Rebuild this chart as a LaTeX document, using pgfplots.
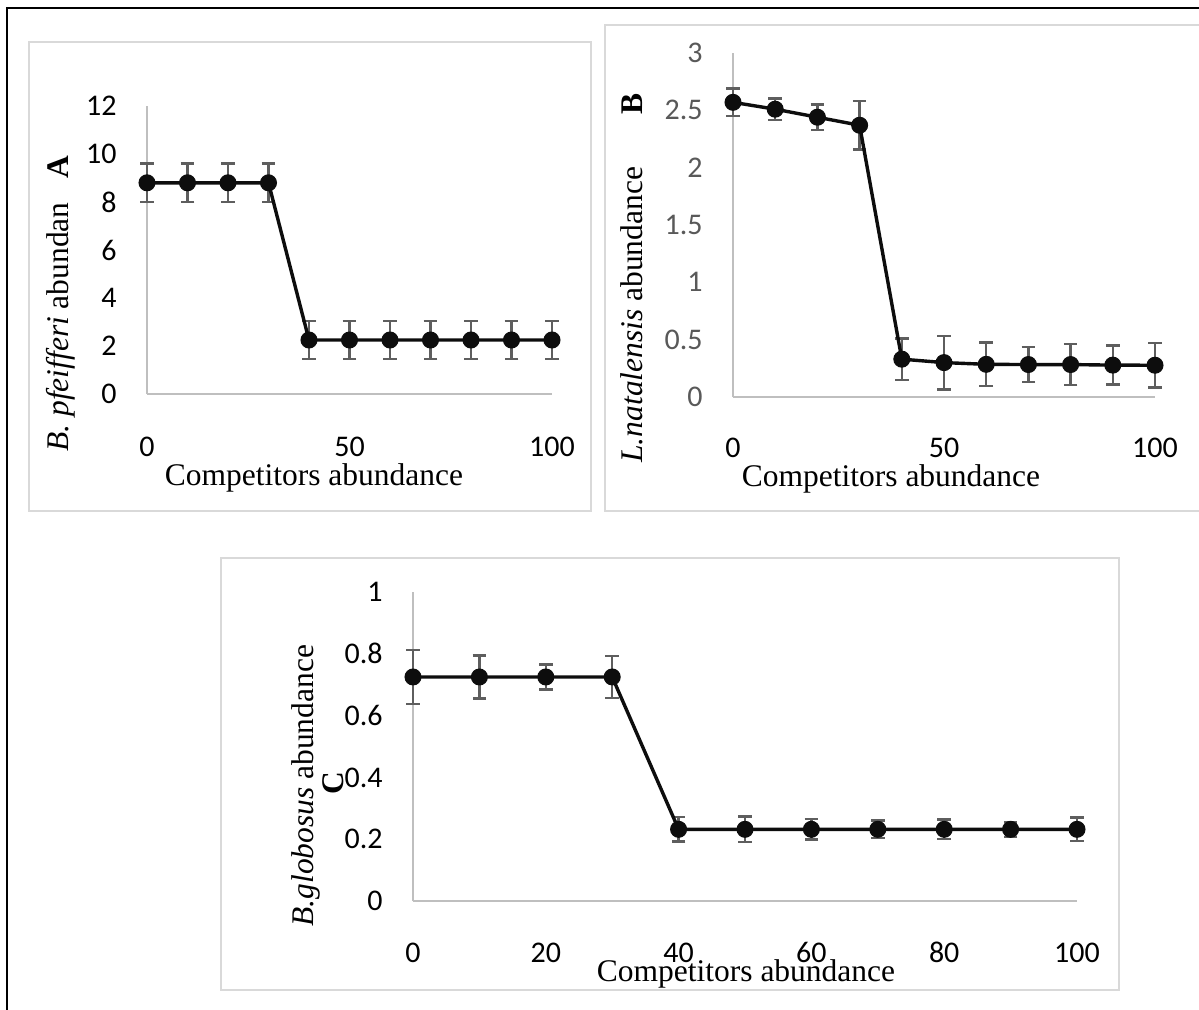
\documentclass[border=0pt]{standalone}
\usepackage{fontspec}
\setmainfont{Liberation Serif}
\newfontfamily\carlito{Carlito}
\usepackage{pgfplots}
\usepackage{pgfplotstable}
\pgfplotsset{compat=1.18}
\definecolor{boxgray}{HTML}{D9D9D9}
\definecolor{axgray}{HTML}{BFBFBF}
\definecolor{errgray}{HTML}{5E5E5E}
\definecolor{tickgray}{HTML}{595959}
\definecolor{lineblk}{HTML}{0D0D0D}
\newcommand\tickfont{\carlito\fontsize{15}{17}\selectfont}
\newcommand\labfont{\fontsize{15.75}{19}\selectfont}

\pgfplotstableread{
x y e
0 8.8 0.8
10 8.8 0.8
20 8.8 0.8
30 8.8 0.8
40 2.25 0.8
50 2.25 0.8
60 2.25 0.8
70 2.25 0.8
80 2.25 0.8
90 2.25 0.8
100 2.25 0.8
}\dataA
\pgfplotstableread{
x y e
0 2.57 0.12
10 2.51 0.095
20 2.44 0.11
30 2.37 0.21
40 0.33 0.18
50 0.30 0.233
60 0.285 0.19
70 0.283 0.153
80 0.283 0.18
90 0.278 0.17
100 0.277 0.195
}\dataB
\pgfplotstableread{
x y e
0 0.725 0.087
10 0.725 0.07
20 0.725 0.04
30 0.725 0.068
40 0.232 0.04
50 0.232 0.042
60 0.232 0.033
70 0.232 0.029
80 0.232 0.032
90 0.232 0.024
100 0.232 0.038
}\dataC

\pgfplotsset{
  panel/.style={
    scale only axis, clip=false, anchor=south west,
    axis x line*=bottom, axis y line*=left,
    axis line style={draw=axgray, line width=0.65pt, -},
    major tick length=0pt,
    xmin=0, xmax=100,
    tick label style={font=\tickfont},
    xticklabel style={anchor=base, inner sep=0pt},
    yticklabel style={anchor=east, inner sep=0pt, xshift=-15pt},
    /pgf/number format/assume math mode=true,
  },
  errplot/.style={forget plot, only marks, mark=none,
    error bars/.cd, y dir=both, y explicit,
    error bar style={draw=errgray, line width=1.2pt},
    error mark options={rotate=90, mark size=3.4pt, line width=1.2pt, draw=errgray}},
  lineplot/.style={color=lineblk, line width=1.7pt, mark=*, mark size=4pt,
    mark options={fill=lineblk, draw=lineblk, line width=0.5pt}},
}

\begin{document}
\begin{tikzpicture}[x=0.5pt,y=0.5pt]
\useasboundingbox (0,0) rectangle (1199,1009);
\fill[white] (0,0) rectangle (1199,1009);
% outer frame
\draw[black, line width=1.4pt] (7,-10) -- (7,1001) -- (1210,1001);
% panel boxes
\draw[boxgray, line width=1pt] (29,498) rectangle (591,967);
\draw[boxgray, line width=1pt] (1210,984) -- (605,984) -- (605,498) -- (1210,498);
\draw[boxgray, line width=1pt] (221,19) rectangle (1119,451);

% Panel A
\begin{axis}[panel, at={(73.5pt,307.5pt)}, width=202.5pt, height=144pt,
  ymin=0, ymax=12, xtick={0,50,100}, ytick={0,2,4,6,8,10,12},
  xticklabel style={yshift=-31pt}]
\addplot[errplot] table[x=x,y=y,y error=e] {\dataA};
\addplot[lineplot] table[x=x,y=y] {\dataA};
\end{axis}

% Panel B
\begin{axis}[panel, at={(366.5pt,306pt)}, width=211pt, height=172pt,
  ymin=0, ymax=3, xtick={0,50,100}, ytick={0,0.5,1,1.5,2,2.5,3},
  yticklabels={0,0.5,1,1.5,2,2.5,3},
  yticklabel style={text=tickgray},
  xticklabel style={yshift=-30pt}]
\addplot[errplot] table[x=x,y=y,y error=e] {\dataB};
\addplot[lineplot] table[x=x,y=y] {\dataB};
\end{axis}

% Panel C
\begin{axis}[panel, at={(206.5pt,54pt)}, width=332pt, height=154.5pt,
  ymin=0, ymax=1, xtick={0,20,40,60,80,100}, ytick={0,0.2,0.4,0.6,0.8,1},
  yticklabels={0,0.2,0.4,0.6,0.8,1},
  xticklabel style={yshift=-30.5pt}]
\addplot[errplot] table[x=x,y=y,y error=e] {\dataC};
\addplot[lineplot] table[x=x,y=y] {\dataC};
\end{axis}

% axis titles
\node[anchor=base, inner sep=0pt, font=\labfont] at (314,524) {Competitors abundance};
\node[anchor=base, inner sep=0pt, font=\labfont] at (891,523) {Competitors abundance};
\node[anchor=base, inner sep=0pt, font=\labfont] at (746,28) {Competitors abundance};

% y labels
\node[anchor=base west, rotate=90, inner sep=0pt, font=\labfont] at (68,557) {\textit{B. pfeifferi} abundan};
\node[anchor=base, rotate=90, inner sep=0pt, font=\labfont\bfseries] at (68,842) {A};
\node[anchor=base west, rotate=90, inner sep=0pt, font=\labfont] at (642,546) {\textit{L.natalensis} abundance};
\node[anchor=base, rotate=90, inner sep=0pt, font=\labfont\bfseries] at (642,905) {B};
\node[anchor=base west, rotate=90, inner sep=0pt, font=\labfont] at (313,82) {\textit{B.globosus} abundance};
\node[anchor=base, rotate=90, inner sep=0pt, font=\labfont\bfseries] at (343,226) {C};
\end{tikzpicture}
\end{document}
